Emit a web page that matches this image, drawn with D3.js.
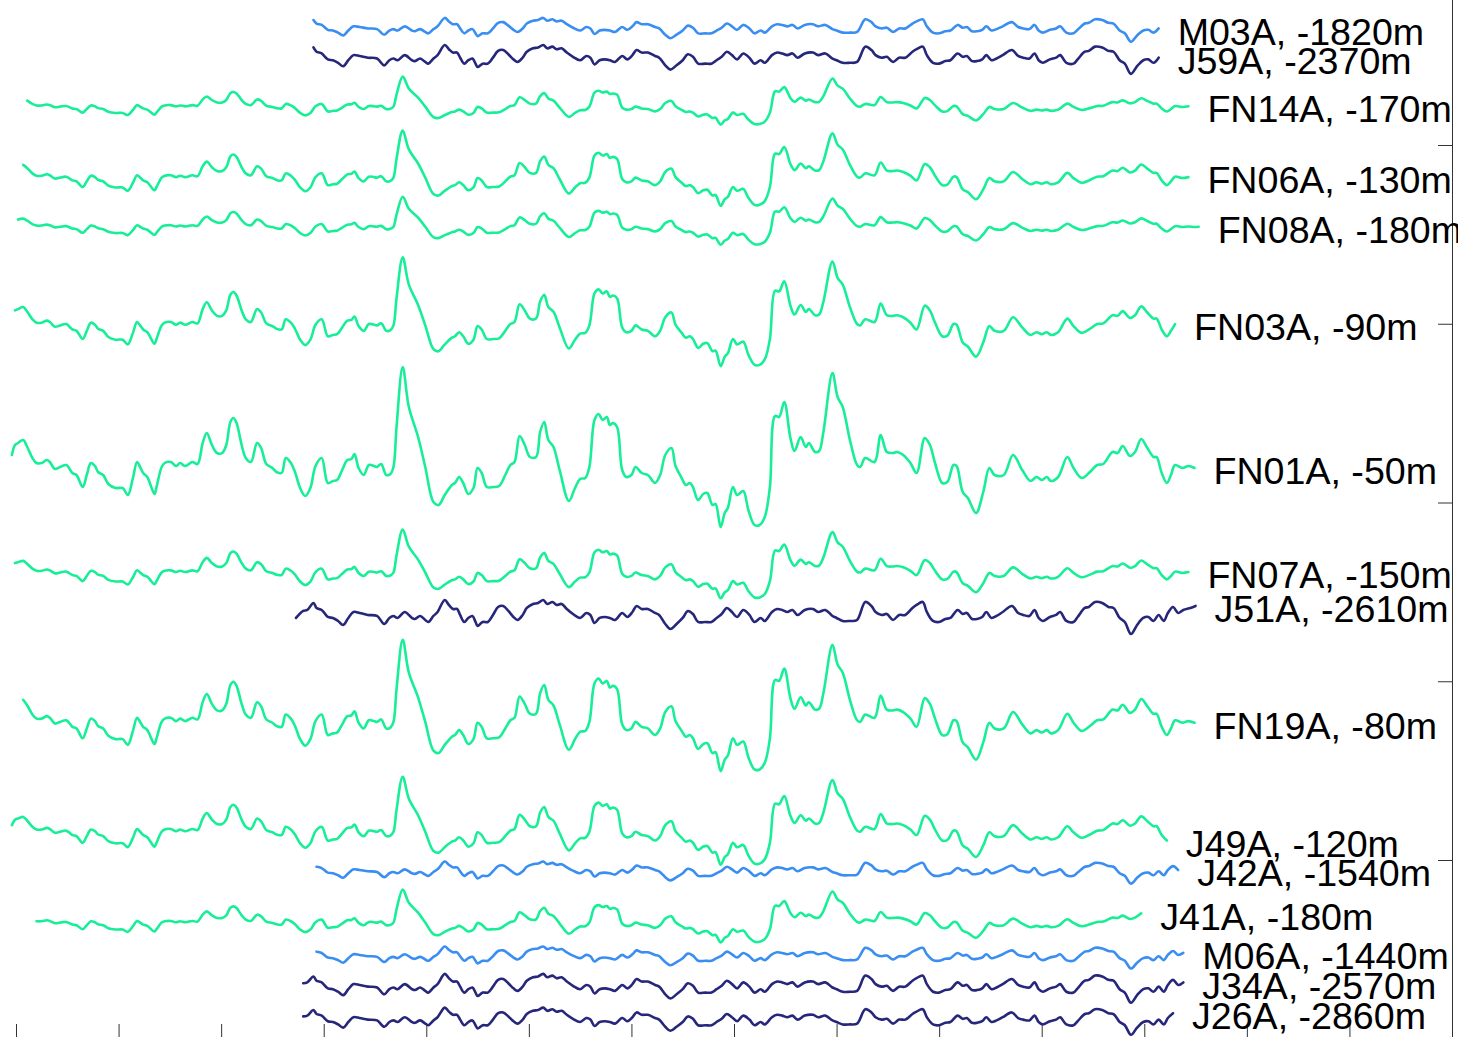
<!DOCTYPE html>
<html>
<head>
<meta charset="utf-8">
<script src="https://cdn.jsdelivr.net/npm/d3@7"></script>
<style>
  body { margin: 0; background: #fff; }
  text { font-family: "Liberation Sans", Arial, Helvetica, sans-serif; }
</style>
</head>
<body>
<svg width="1458" height="1037"></svg>
<script>
// Shallow record (seconds, amplitude counts)
const greenTime = [
  -0.04, -0.01, 0.02, 0.07, 0.11, 0.16, 0.20, 0.25, 0.30, 0.33,
  0.38, 0.43, 0.49, 0.55, 0.59, 0.65, 0.69, 0.73, 0.77, 0.80,
  0.85, 0.90, 0.97, 1.04, 1.09, 1.14, 1.18, 1.21, 1.24, 1.28,
  1.35, 1.37, 1.42, 1.45, 1.51, 1.56, 1.60, 1.65, 1.72, 1.77,
  1.82, 1.86, 1.91, 1.96, 2.01, 2.05, 2.09, 2.12, 2.15, 2.20,
  2.24, 2.29, 2.35, 2.39, 2.44, 2.50, 2.54, 2.59, 2.63, 2.68,
  2.72, 2.77, 2.82, 2.87, 2.92, 2.98, 3.04, 3.09, 3.13, 3.18,
  3.23, 3.27, 3.30, 3.34, 3.39, 3.44, 3.49, 3.52, 3.56, 3.61,
  3.65, 3.68, 3.71, 3.77, 3.83, 3.92, 3.99, 4.07, 4.12, 4.18,
  4.25, 4.28, 4.32, 4.36, 4.41, 4.46, 4.50, 4.54, 4.59, 4.65,
  4.71, 4.77, 4.82, 4.86, 4.91, 4.96, 5.01, 5.07, 5.11, 5.15,
  5.19, 5.24, 5.30, 5.39, 5.45, 5.50, 5.55, 5.59, 5.64, 5.68,
  5.72, 5.76, 5.79, 5.82, 5.86, 5.91, 5.95, 6.00, 6.04, 6.10,
  6.16, 6.23, 6.28, 6.33, 6.39, 6.43, 6.49, 6.53, 6.57, 6.60,
  6.65, 6.70, 6.74, 6.79, 6.82, 6.87, 6.91, 6.94, 6.99, 7.03,
  7.09, 7.14, 7.20, 7.25, 7.30, 7.35, 7.40, 7.44, 7.49, 7.55,
  7.59, 7.65, 7.70, 7.73, 7.79, 7.83, 7.87, 7.96, 8.01, 8.06,
  8.13, 8.20, 8.23, 8.28, 8.37, 8.43, 8.49, 8.55, 8.59, 8.65,
  8.72, 8.78, 8.86, 8.91, 8.96, 9.03, 9.08, 9.14, 9.17, 9.23,
  9.28, 9.36, 9.43, 9.49, 9.54, 9.63, 9.72, 9.81, 9.89, 9.95,
  10.00, 10.05, 10.09, 10.16, 10.25, 10.31, 10.39, 10.47, 10.54, 10.60,
  10.69, 10.74, 10.79, 10.86, 10.91, 10.97, 11.03, 11.09, 11.12, 11.17,
  11.22, 11.26, 11.30, 11.37, 11.43, 11.49, 11.53
];
const greenAmp = [
  13, 23, 25, 28, 21, 10, 5, 5, 8, 6,
  -1, 1, 3, -5, -7, -19, -7, 5, 2, -4,
  -7, -16, -20, -20, -27, -10, 6, 1, -5, -9,
  -26, -19, 1, 5, 6, 2, 5, 2, 6, 4,
  25, 35, 23, 15, 15, 23, 46, 50, 45, 23,
  10, 6, 25, 20, 4, 0, -4, -5, 10, 5,
  -4, -20, -28, -20, 2, 10, -15, -13, -12, -2,
  8, 9, 14, 0, -7, 3, 2, 1, 4, -7,
  -6, 1, 41, 101, 61, 31, 1, -34, -37, -27,
  -17, -15, -9, -15, -26, -20, 0, -5, -19, -19,
  -18, -7, 3, 6, 32, 23, 11, 11, 36, 46,
  28, 21, -2, -33, -20, -11, -10, 1, 48, 54,
  48, 51, 43, 45, 41, -2, -9, -7, 1, -5,
  -7, -15, -7, 13, 20, 2, -10, -17, -15, -19,
  -32, -26, -25, -37, -36, -59, -45, -40, -19, -27,
  -23, -42, -57, -57, -49, -19, 52, 51, 66, 30,
  17, 31, 21, 25, 16, 17, 35, 95, 71, 61,
  28, 3, 1, 10, 6, 33, 16, 15, 16, 13,
  5, -5, 30, 23, 5, -15, -14, 3, 2, -24,
  -30, -45, -24, 0, -7, -7, 13, -2, -13, -9,
  -12, -9, -13, -9, 11, 0, -10, -4, 3, 4,
  16, 15, 22, 12, 16, 29, 20, 11, 11, -5,
  -15, -7, 3, 0, 2, 0, 1
];

// Borehole record (seconds, amplitude counts)
const blueTime = [
  2.73, 2.80, 2.84, 2.90, 2.93, 2.98, 3.04, 3.09, 3.14, 3.19,
  3.24, 3.29, 3.35, 3.43, 3.52, 3.59, 3.64, 3.68, 3.72, 3.79,
  3.86, 3.89, 3.94, 3.99, 4.02, 4.07, 4.11, 4.18, 4.22, 4.26,
  4.30, 4.33, 4.37, 4.41, 4.45, 4.48, 4.50, 4.55, 4.60, 4.65,
  4.70, 4.75, 4.80, 4.85, 4.89, 4.94, 4.98, 5.04, 5.09, 5.14,
  5.18, 5.23, 5.27, 5.32, 5.37, 5.43, 5.50, 5.56, 5.60, 5.64,
  5.69, 5.74, 5.79, 5.84, 5.91, 5.96, 6.01, 6.05, 6.10, 6.16,
  6.23, 6.27, 6.33, 6.38, 6.44, 6.50, 6.55, 6.60, 6.65, 6.72,
  6.78, 6.83, 6.88, 6.93, 6.98, 7.03, 7.09, 7.15, 7.20, 7.26,
  7.30, 7.37, 7.42, 7.47, 7.52, 7.57, 7.62, 7.69, 7.77, 7.82,
  7.89, 7.96, 8.00, 8.06, 8.13, 8.20, 8.28, 8.34, 8.38, 8.44,
  8.49, 8.55, 8.61, 8.67, 8.74, 8.78, 8.84, 8.88, 8.94, 9.00,
  9.06, 9.11, 9.18, 9.23, 9.27, 9.32, 9.37, 9.42, 9.46, 9.51,
  9.56, 9.62, 9.71, 9.77, 9.82, 9.88, 9.93, 9.97, 10.01, 10.08,
  10.14, 10.18, 10.24, 10.31, 10.35, 10.42, 10.46, 10.52, 10.59, 10.65,
  10.70, 10.76, 10.81, 10.87, 10.93, 10.99, 11.04, 11.09, 11.14, 11.19,
  11.23, 11.28, 11.33, 11.38, 11.45, 11.50
];
const blueAmp = [
  -5, 2, 3, 10, 5, 3, -4, -5, -8, -12,
  -5, 1, 0, -2, -3, -11, -5, -3, -5, 1,
  -5, -6, -3, -7, -9, -3, 1, 13, 8, 4,
  4, -2, -9, -5, -3, -9, -13, -9, -9, -2,
  6, 7, 2, -4, -7, -2, 5, 9, 10, 13,
  9, 11, 8, 9, 4, -1, -5, 0, -2, -10,
  -5, -4, -5, -7, 0, -4, 1, 7, 4, 4,
  0, -2, -11, -16, -11, -5, 2, -1, -9, -9,
  -9, -5, -1, 5, 1, -4, 3, -2, -9, -5,
  -8, 1, 4, 3, 1, 3, -2, 3, 4, 1,
  3, -3, -5, -8, -8, -7, 11, 7, 1, -2,
  -1, -7, -2, -2, 5, 8, 11, 1, -8, -9,
  -6, -5, 3, -1, 0, -6, -6, -4, 1, -5,
  -3, 1, 7, 0, -2, -3, 3, -5, -8, -4,
  -2, 1, -8, -9, -4, 5, 6, 11, 10, 6,
  5, -5, -9, -21, -12, -5, -4, -8, -2, -8,
  0, 6, 0, 3, 5, 7
];

// Stations, top to bottom
const stations = ["M03A", "J59A", "FN14A", "FN06A", "FN08A", "FN03A", "FN01A", "FN07A",
  "J51A", "FN19A", "J49A", "J42A", "J41A", "M06A", "J34A", "J26A"];
const depths = [-1820, -2370, -170, -130, -180, -90, -50, -150,
  -2610, -80, -120, -1540, -180, -1440, -2570, -2860];
const records = ["deep", "deep", "shallow", "shallow", "shallow", "shallow", "shallow", "shallow",
  "deep", "shallow", "shallow", "deep", "shallow", "deep", "deep", "deep"];
const offsets = [0.340, 0.502, 0.787, 1.185, 1.459, 2.013, 2.807, 3.394,
  3.618, 4.232, 4.845, 5.056, 5.352, 5.531, 5.699, 5.884];
const gains = [0.70, 0.85, 0.30, 0.47, 0.30, 0.68, 1.00, 0.43,
  1.00, 0.82, 0.55, 0.65, 0.33, 0.65, 0.85, 0.80];
const tStart = [2.90, 2.90, 0.09, 0.06, 0.02, -0.01, -0.04, -0.01,
  2.73, 0.06, -0.06, 2.92, 0.19, 2.92, 2.75, 2.80];
const tEnd = [11.17, 11.17, 11.45, 11.45, 11.53, 11.30, 11.49, 11.47,
  11.50, 11.49, 11.23, 11.35, 10.97, 11.38, 11.38, 11.30];

const xTickValues = [0, 1, 2, 3, 4, 5, 6, 7, 8, 9, 10, 11, 12, 13, 14];
const yTickValues = [1, 2, 3, 4, 5];

const svg = d3.select("svg");
const height = 1037;

const x = d3.scaleLinear().domain([0, 14]).range([16, 1452]);
const y = d3.scaleLinear().domain([1, 5]).range([145, 860]);
const amp = d3.scaleLinear().domain([0, 100]).range([0, 0.5594]);

// colour by sensor depth
const color = d3
  .scaleThreshold()
  .domain([-2000, -500])
  .range(["#26267a", "#3a8ef2", "#18ee97"]);

const wave = {
  shallow: greenTime.map((t, i) => ({ t: t, a: greenAmp[i] })),
  deep: blueTime.map((t, i) => ({ t: t, a: blueAmp[i] }))
};

const traces = stations.map((name, i) => {
  const pts = wave[records[i]].filter(
    (p) => p.t >= tStart[i] - 1e-6 && p.t <= tEnd[i] + 1e-6
  );
  return { name, depth: depths[i], off: offsets[i], gain: gains[i], pts };
});

const line = (tr) =>
  d3
    .line()
    .x((p) => x(p.t))
    .y((p) => y(tr.off - tr.gain * amp(p.a)))
    .curve(d3.curveCatmullRom.alpha(0.5));

// Axes: ticks only, box edge on the right
svg
  .append("g")
  .attr("transform", `translate(0, ${height})`)
  .call(d3.axisTop(x).tickValues(xTickValues).tickSize(13).tickFormat(""))
  .call((g) => g.select(".domain").remove())
  .selectAll("line")
  .attr("stroke", "#333");

svg
  .append("g")
  .attr("transform", "translate(1452, 0)")
  .call(d3.axisLeft(y).tickValues(yTickValues).tickSize(14).tickFormat(""))
  .call((g) => g.select(".domain").remove())
  .selectAll("line")
  .attr("stroke", "#333");

svg
  .append("line")
  .attr("x1", 1452.5)
  .attr("x2", 1452.5)
  .attr("y1", 0)
  .attr("y2", height)
  .attr("stroke", "#333")
  .attr("stroke-width", 1);

// Traces
svg
  .append("g")
  .selectAll("path")
  .data(traces)
  .enter()
  .append("path")
  .attr("d", (d) => line(d)(d.pts))
  .attr("fill", "none")
  .attr("stroke", (d) => color(d.depth))
  .attr("stroke-width", 2.6)
  .attr("stroke-linejoin", "round")
  .attr("stroke-linecap", "round");

// Station labels at the end of each trace
svg
  .append("g")
  .selectAll("text")
  .data(traces)
  .enter()
  .append("text")
  .attr("x", (d) => x(d.pts[d.pts.length - 1].t) + 19)
  .attr("y", (d) => {
    const p = d.pts[d.pts.length - 1];
    return y(d.off - d.gain * amp(p.a));
  })
  .attr("dy", "0.43em")
  .attr("font-size", 37.6)
  .attr("fill", "#000")
  .text((d) => `${d.name}, ${d.depth}m`);
</script>
</body>
</html>
